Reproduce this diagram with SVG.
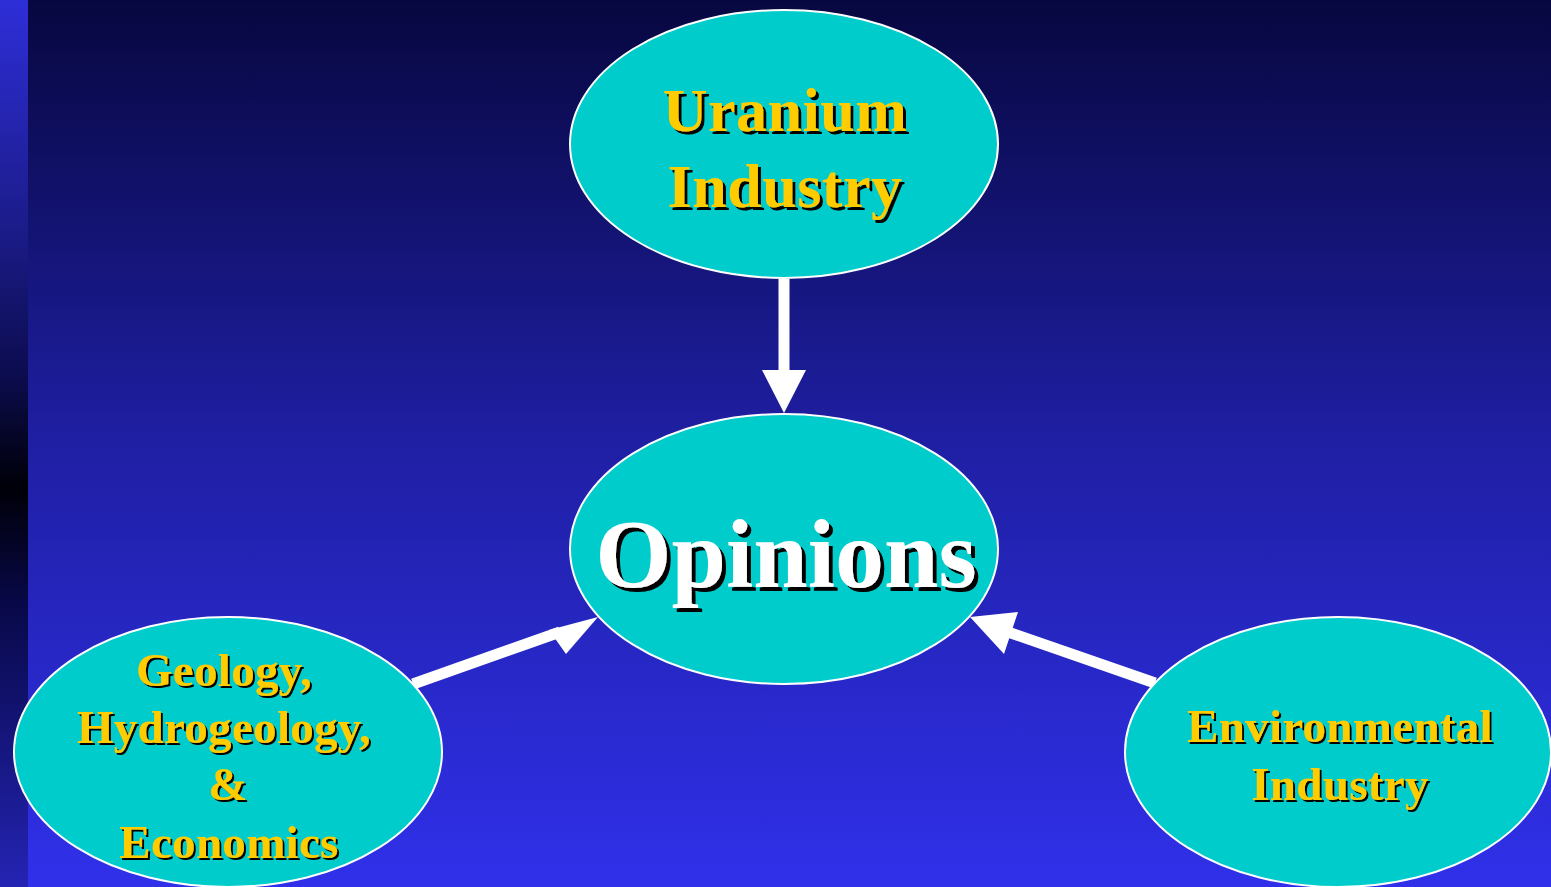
<svg xmlns="http://www.w3.org/2000/svg" width="1551" height="887" viewBox="0 0 1551 887">
  <defs>
    <linearGradient id="bg" x1="0" y1="0" x2="0" y2="1">
      <stop offset="0" stop-color="#070740"/>
      <stop offset="0.5" stop-color="#1f1fa4"/>
      <stop offset="1" stop-color="#3030ea"/>
    </linearGradient>
    <linearGradient id="strip" x1="0" y1="0" x2="0" y2="1">
      <stop offset="0" stop-color="#2e2ed8"/>
      <stop offset="0.25" stop-color="#1c1c8c"/>
      <stop offset="0.42" stop-color="#0c0c50"/>
      <stop offset="0.55" stop-color="#000008"/>
      <stop offset="0.68" stop-color="#080848"/>
      <stop offset="1" stop-color="#2424b4"/>
    </linearGradient>
    <filter id="shadowL" x="-10%" y="-20%" width="120%" height="140%">
      <feOffset in="SourceAlpha" dx="4" dy="4" result="o"/>
      <feMerge><feMergeNode in="o"/><feMergeNode in="SourceGraphic"/></feMerge>
    </filter>
    <filter id="shadowM" x="-10%" y="-20%" width="120%" height="140%">
      <feOffset in="SourceAlpha" dx="3" dy="3" result="o"/>
      <feMerge><feMergeNode in="o"/><feMergeNode in="SourceGraphic"/></feMerge>
    </filter>
    <filter id="shadowS" x="-10%" y="-20%" width="120%" height="140%">
      <feOffset in="SourceAlpha" dx="2" dy="2" result="o"/>
      <feMerge><feMergeNode in="o"/><feMergeNode in="SourceGraphic"/></feMerge>
    </filter>
    <style>
      .node { fill: #00cccc; stroke: #ffffff; stroke-width: 2; }
      .lbl { font-family: "Liberation Serif", "Times New Roman", serif; font-weight: bold; text-anchor: middle; }
      .yel { fill: #ffcc00; }
      .wht { fill: #ffffff; }
      .shaft { stroke: #ffffff; stroke-width: 11; fill: none; }
      .head { fill: #ffffff; }
    </style>
  </defs>
  <rect x="0" y="0" width="1551" height="887" fill="url(#bg)"/>
  <rect x="0" y="0" width="28" height="887" fill="url(#strip)"/>

  <g id="connectors">
    <line class="shaft" x1="413" y1="684" x2="560" y2="632"/>
    <polygon class="head" points="549,630 566,654 598,617"/>
    <line class="shaft" x1="1155" y1="683" x2="1008" y2="632"/>
    <polygon class="head" points="1018,612 1004,654 970,617"/>
    <line class="shaft" x1="784" y1="279" x2="784" y2="375"/>
    <polygon class="head" points="762,370 806,370 784,413"/>
  </g>

  <g id="node-uranium">
    <ellipse class="node" cx="784" cy="144" rx="214" ry="134"/>
    <text class="lbl yel" font-size="62" letter-spacing="0.5" filter="url(#shadowM)"><tspan x="785" y="131">Uranium</tspan><tspan x="785" y="207">Industry</tspan></text>
  </g>

  <g id="node-opinions">
    <ellipse class="node" cx="784" cy="549" rx="214" ry="135"/>
    <text class="lbl wht" font-size="98" x="786" y="587" filter="url(#shadowL)">Opinions</text>
  </g>

  <g id="node-geology">
    <ellipse class="node" cx="228" cy="752" rx="214" ry="135"/>
    <text class="lbl yel" font-size="47" letter-spacing="0.3" filter="url(#shadowS)"><tspan x="224" y="686">Geology,</tspan><tspan x="224" y="743">Hydrogeology,</tspan><tspan x="228" y="800">&amp;</tspan><tspan x="229" y="858">Economics</tspan></text>
  </g>

  <g id="node-environmental">
    <ellipse class="node" cx="1338" cy="752" rx="213" ry="135"/>
    <text class="lbl yel" font-size="47" letter-spacing="0.3" filter="url(#shadowS)"><tspan x="1340" y="742">Environmental</tspan><tspan x="1340" y="800">Industry</tspan></text>
  </g>
</svg>
